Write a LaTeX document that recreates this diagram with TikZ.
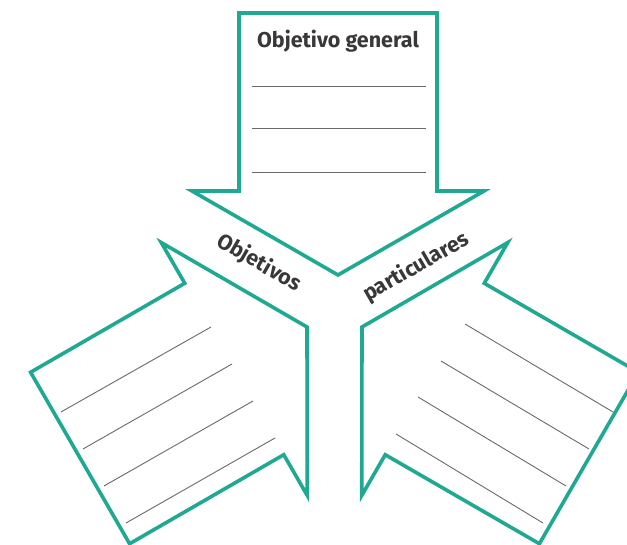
\documentclass[tikz,border=0pt]{standalone}
\usepackage{fontspec}
\setmainfont{Fira Sans}
\definecolor{tealline}{HTML}{1FA892}
\definecolor{ruleg}{HTML}{6A6A6A}
\tikzset{
  arrowbox/.style={draw=tealline, line width=3.6pt, fill=white, line join=miter},
  ruleline/.style={draw=ruleg, line width=0.9pt},
  lbl/.style={font=\fontsize{21.5}{24}\selectfont\bfseries, text=black!78, inner sep=0pt},
  bigarrow/.pic={
    \draw[arrowbox] (0,0) -- (146,-84) -- (99,-84) -- (99,-262) -- (-99,-262)
      -- (-99,-84) -- (-146,-84) -- cycle;
  }
}
\begin{document}
\begin{tikzpicture}[x=1pt,y=-1pt]
\useasboundingbox (0,0) rectangle (627,545);
\clip (0,0) rectangle (627,545);
% three arrows
\pic at (338,275) {bigarrow};
\pic[rotate=120] at (307,327) {bigarrow};
\pic[rotate=-120] at (362,327) {bigarrow};
% rules, top arrow
\foreach \y in {86,128,172} \draw[ruleline] (252,\y) -- (426,\y);
% rules, left arrow
\draw[ruleline] (61,412) -- (211,327);
\draw[ruleline] (83,449) -- (232,364);
\draw[ruleline] (104,486) -- (253,401);
\draw[ruleline] (126,523) -- (275,438);
% rules, right arrow
\draw[ruleline] (465,324) -- (613,412);
\draw[ruleline] (441,361) -- (589,449);
\draw[ruleline] (418,397) -- (566,486);
\draw[ruleline] (396,434) -- (543,523);
% labels
\node[lbl] (title) at (338,41) {Objetivo general};
\node[lbl, rotate=-30] (obj) at (259,263) {Objetivos};
\node[lbl, rotate=30] (part) at (416,267) {particulares};
\end{tikzpicture}
\end{document}
